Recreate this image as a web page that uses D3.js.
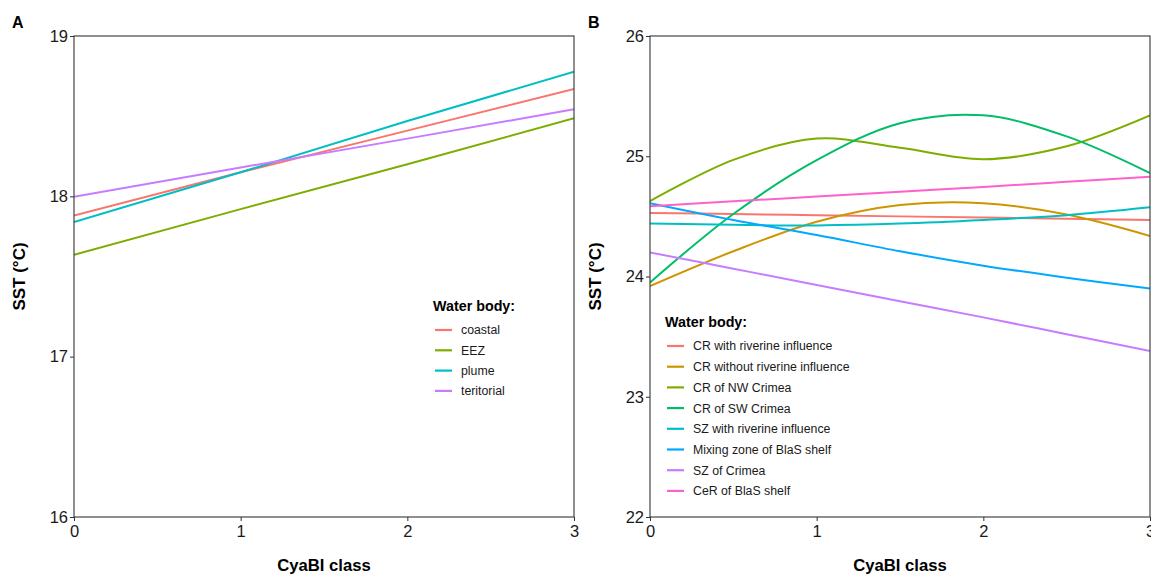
<!DOCTYPE html>
<html>
<head>
<meta charset="utf-8">
<script src="https://cdn.jsdelivr.net/npm/d3@7"></script>
<style>
  html, body { margin: 0; padding: 0; background: #fff; }
  svg { display: block; font-family: "Liberation Sans", Arial, Helvetica, sans-serif; }
</style>
</head>
<body>
<svg id="chart" width="1151" height="576"></svg>
<script>
// ---- Panel A: SST vs CyaBI class by water body ----
const classesA = [0, 1, 2, 3];
const namesA = ["coastal", "EEZ", "plume", "teritorial"];
const coloursA = ["#F8766D", "#7CAE00", "#00BFC4", "#C77CFF"];
const coastal    = [17.88, 18.15, 18.41, 18.67];
const eez        = [17.635, 17.92, 18.20, 18.487];
const plume      = [17.84, 18.15, 18.47, 18.777];
const teritorial = [17.998, 18.18, 18.36, 18.543];
const seriesA = [coastal, eez, plume, teritorial];
const yTicksA = [16, 17, 18, 19];

// ---- Panel B: SST vs CyaBI class by water body ----
const classesB = [0, 0.5, 1, 1.5, 2, 2.5, 3];
const namesB = [
  "CR with riverine influence", "CR without riverine influence", "CR of NW Crimea",
  "CR of SW Crimea", "SZ with riverine influence", "Mixing zone of BlaS shelf",
  "SZ of Crimea", "CeR of BlaS shelf"
];
const coloursB = ["#F8766D", "#CD9600", "#7CAE00", "#00BE67", "#00BFC4", "#00A9FF", "#C77CFF", "#FF61CC"];
const crRiverine    = [24.528, 24.52, 24.51, 24.50, 24.49, 24.48, 24.47];
const crNoRiverine  = [23.92, 24.21, 24.456, 24.595, 24.61, 24.515, 24.337];
const crNWCrimea    = [24.627, 24.97, 25.147, 25.07, 24.975, 25.083, 25.34];
const crSWCrimea    = [23.95, 24.52, 24.967, 25.275, 25.34, 25.165, 24.86];
const szRiverine    = [24.44, 24.43, 24.425, 24.44, 24.47, 24.51, 24.575];
const mixingZone    = [24.61, 24.47, 24.345, 24.21, 24.09, 23.99, 23.90];
const szCrimea      = [24.20, 24.065, 23.93, 23.795, 23.66, 23.52, 23.38];
const ceRShelf      = [24.585, 24.625, 24.665, 24.705, 24.745, 24.787, 24.83];
const seriesB = [crRiverine, crNoRiverine, crNWCrimea, crSWCrimea, szRiverine, mixingZone, szCrimea, ceRShelf];
const yTicksB = [22, 23, 24, 25, 26];

const xTicks = [0, 1, 2, 3];

const svg = d3.select("#chart");

function panel(opts) {
  const { left, right, top, bottom, yDomain, yTicks, classes, series, names, colours,
          letter, letterX, titleX, legendX, legendY, legendStep, curve } = opts;

  const x = d3.scaleLinear().domain([0, 3]).range([left, right]);
  const y = d3.scaleLinear().domain(yDomain).range([bottom, top]);
  const g = svg.append("g");

  // clip area for the fitted lines
  const clipId = "clip-" + letter;
  svg.append("clipPath").attr("id", clipId)
    .append("rect").attr("x", left).attr("y", top)
    .attr("width", right - left).attr("height", bottom - top);

  // lines
  const line = d3.line()
    .x((d, i) => x(classes[i]))
    .y(d => y(d))
    .curve(curve);
  g.append("g").attr("clip-path", `url(#${clipId})`)
    .selectAll("path").data(series).join("path")
    .attr("d", d => line(d))
    .attr("fill", "none")
    .attr("stroke", (d, i) => colours[i])
    .attr("stroke-width", 2);

  // panel border
  g.append("rect")
    .attr("x", left).attr("y", top)
    .attr("width", right - left).attr("height", bottom - top)
    .attr("fill", "none").attr("stroke", "#333").attr("stroke-width", 1.1);

  // axes
  const yAxis = d3.axisLeft(y).tickValues(yTicks).tickFormat(d3.format("d"))
    .tickSize(4).tickPadding(2);
  const ga = g.append("g").attr("transform", `translate(${left},0)`).call(yAxis);
  ga.select(".domain").remove();
  ga.selectAll("line").attr("stroke", "#333");
  ga.selectAll("text").attr("font-size", 16.5).attr("fill", "#1a1a1a");

  const xAxis = d3.axisBottom(x).tickValues(xTicks).tickFormat(d3.format("d"))
    .tickSize(4).tickPadding(4);
  const gb = g.append("g").attr("transform", `translate(0,${bottom})`).call(xAxis);
  gb.select(".domain").remove();
  gb.selectAll("line").attr("stroke", "#333");
  gb.selectAll("text").attr("font-size", 16.5).attr("fill", "#1a1a1a");

  // titles
  g.append("text").attr("x", letterX).attr("y", 28)
    .attr("font-size", 16).attr("font-weight", "bold").text(letter);
  g.append("text")
    .attr("transform", `translate(${titleX},${(top + bottom) / 2}) rotate(-90)`)
    .attr("text-anchor", "middle").attr("font-size", 17).attr("font-weight", "bold")
    .text("SST (°C)");
  g.append("text").attr("x", (left + right) / 2).attr("y", 571)
    .attr("text-anchor", "middle").attr("font-size", 16.7).attr("font-weight", "bold")
    .text("CyaBI class");

  // legend
  const lg = g.append("g");
  lg.append("text").attr("x", legendX - 2).attr("y", legendY)
    .attr("font-size", 14.3).attr("font-weight", "bold").text("Water body:");
  const items = lg.selectAll("g.item").data(names).join("g").attr("class", "item")
    .attr("transform", (d, i) => `translate(${legendX},${legendY + 19 + i * legendStep})`);
  items.append("line").attr("x1", 0).attr("x2", 17).attr("y1", 0).attr("y2", 0)
    .attr("stroke", (d, i) => colours[i]).attr("stroke-width", 2.2);
  items.append("text").attr("x", 26).attr("y", 4.4)
    .attr("font-size", 12.3).attr("fill", "#1a1a1a").text(d => d);
}

panel({
  left: 74, right: 574, top: 36, bottom: 517,
  yDomain: [16, 19], yTicks: yTicksA, classes: classesA, series: seriesA,
  names: namesA, colours: coloursA, letter: "A", letterX: 12, titleX: 25,
  legendX: 435, legendY: 311, legendStep: 20.3, curve: d3.curveLinear
});

panel({
  left: 650, right: 1150, top: 36, bottom: 517,
  yDomain: [22, 26], yTicks: yTicksB, classes: classesB, series: seriesB,
  names: namesB, colours: coloursB, letter: "B", letterX: 588, titleX: 601,
  legendX: 667, legendY: 327, legendStep: 20.7, curve: d3.curveCatmullRom.alpha(0.5)
});
</script>
</body>
</html>
